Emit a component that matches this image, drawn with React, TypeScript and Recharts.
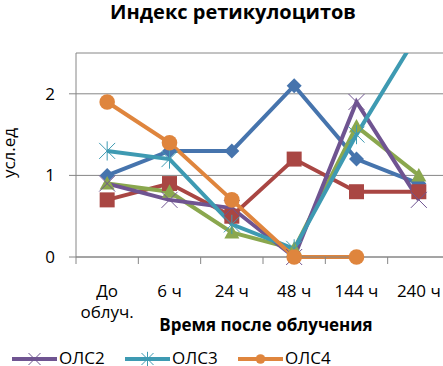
import React from 'react';
import { LineChart, Line, XAxis, YAxis, CartesianGrid } from 'recharts';

const categories = ['До\nоблуч.', '6 ч', '24 ч', '48 ч', '144 ч', '240 ч'];
const ryad1 = [1.0, 1.3, 1.3, 2.1, 1.2, 0.9];
const ryad2 = [0.7, 0.9, 0.5, 1.2, 0.8, 0.8];
const ryad3 = [0.9, 0.8, 0.3, 0.1, 1.6, 1.0];
const ols2 = [0.9, 0.7, 0.6, 0, 1.9, 0.7];
const ols3 = [1.3, 1.2, 0.4, 0.1, 1.5, 2.75];
const ols4 = [1.9, 1.4, 0.7, 0, 0, null];
const yTicks = [0, 1, 2];

const data = categories.map((cat, i) => ({
    cat,
    r1: ryad1[i],
    r2: ryad2[i],
    r3: ryad3[i],
    o2: ols2[i],
    o3: ols3[i],
    o4: ols4[i],
}));

const FONT = '"Open Sans", sans-serif';
const GRID = '#868686';

type Shape = 'diamond' | 'square' | 'triangle' | 'x' | 'star' | 'circle';

// ОЛС3 goes off the top, so it sits on its own clipped axis
const series: { key: string; name: string; color: string; shape: Shape; legend: boolean; axis: string }[] = [
    { key: 'r1', name: 'Ряд1', color: '#4674AD', shape: 'diamond', legend: false, axis: 'main' },
    { key: 'r2', name: 'Ряд2', color: '#A94643', shape: 'square', legend: false, axis: 'main' },
    { key: 'r3', name: 'Ряд3', color: '#8AA74E', shape: 'triangle', legend: false, axis: 'main' },
    { key: 'o2', name: 'ОЛС2', color: '#6F5491', shape: 'x', legend: true, axis: 'main' },
    { key: 'o3', name: 'ОЛС3', color: '#3E9AB2', shape: 'star', legend: true, axis: 'clip' },
    { key: 'o4', name: 'ОЛС4', color: '#DF853D', shape: 'circle', legend: true, axis: 'main' },
];

// marker glyph, s = half size
const marker = (shape: Shape, color: string, cx: number, cy: number, s: number) => {
    switch (shape) {
        case 'diamond':
            return <path d={`M${cx},${cy - s} L${cx + s},${cy} L${cx},${cy + s} L${cx - s},${cy} Z`} fill={color} />;
        case 'square':
            return <rect x={cx - s} y={cy - s} width={s * 2} height={s * 2} fill={color} />;
        case 'triangle':
            return <path d={`M${cx},${cy - s} L${cx + s},${cy + s * 0.8} L${cx - s},${cy + s * 0.8} Z`} fill={color} />;
        case 'x':
            return (
                <g stroke={color} strokeWidth={1}>
                    <line x1={cx - s} y1={cy - s} x2={cx + s} y2={cy + s} />
                    <line x1={cx - s} y1={cy + s} x2={cx + s} y2={cy - s} />
                </g>
            );
        case 'star':
            return (
                <g stroke={color} strokeWidth={1}>
                    <line x1={cx - s} y1={cy - s} x2={cx + s} y2={cy + s} />
                    <line x1={cx - s} y1={cy + s} x2={cx + s} y2={cy - s} />
                    <line x1={cx} y1={cy - s * 1.2} x2={cx} y2={cy + s * 1.2} />
                </g>
            );
        default:
            return <circle cx={cx} cy={cy} r={s} fill={color} />;
    }
};

const makeDot = (shape: Shape, color: string) => (props: any) => {
    const { cx, cy, value, index } = props;
    if (value == null || cx == null || cy == null) return <g key={`e-${index}`} />;
    const size = shape === 'x' || shape === 'star' ? 8 : shape === 'circle' ? 7.8 : 7.5;
    return <g key={`d-${index}`}>{marker(shape, color, cx, cy, size)}</g>;
};

const CategoryTick = (props: any) => {
    const { x, y, payload, width, visibleTicksCount } = props;
    const band = width && visibleTicksCount ? width / visibleTicksCount : 62.3;
    const lines = String(payload.value).split('\n');
    return (
        <g>
            <line x1={x - band / 2} x2={x - band / 2} y1={y} y2={y + 7} stroke={GRID} />
            <text x={x} y={y + 40} textAnchor="middle" fill="#000" fontSize={17} fontFamily={FONT}>
                {lines.map((l, i) => (
                    <tspan key={i} x={x} dy={i === 0 ? 0 : 21}>
                        {l}
                    </tspan>
                ))}
            </text>
        </g>
    );
};

const legendItems = series.filter((s) => s.legend);

export default function App() {
    return (
        <div style={{ position: 'absolute', left: 0, top: 0, width: 443, height: 366, overflow: 'hidden', background: '#fff' }}>
            <LineChart width={460} height={366} data={data} margin={{ top: 53, right: 10, bottom: 0, left: 0 }}>
                <CartesianGrid yAxisId="main" vertical={false} stroke={GRID} />
                <XAxis
                    dataKey="cat"
                    scale="band"
                    interval={0}
                    height={109}
                    tickSize={0}
                    tickMargin={0}
                    tickLine={false}
                    axisLine={{ stroke: GRID }}
                    tick={<CategoryTick />}
                />
                <YAxis
                    yAxisId="main"
                    width={76}
                    domain={[0, 2.5]}
                    ticks={yTicks}
                    tickSize={7}
                    tickMargin={14}
                    axisLine={{ stroke: GRID }}
                    tickLine={{ stroke: GRID }}
                    tick={{ fill: '#000', fontSize: 17, fontFamily: FONT }}
                />
                <YAxis yAxisId="clip" orientation="right" width={0} hide domain={[0, 2.5]} allowDataOverflow />
                {series.map((s) => (
                    <Line
                        key={s.key}
                        yAxisId={s.axis}
                        dataKey={s.key}
                        name={s.name}
                        stroke={s.color}
                        strokeWidth={4}
                        dot={makeDot(s.shape, s.color)}
                        activeDot={false}
                        isAnimationActive={false}
                        legendType={s.legend ? 'line' : 'none'}
                    />
                ))}
            </LineChart>
            <svg width={443} height={366} style={{ position: 'absolute', left: 0, top: 0, pointerEvents: 'none' }} fontFamily={FONT}>
                <text x={233} y={19} textAnchor="middle" fontSize={20} fontWeight="bold" fill="#000">
                    Индекс ретикулоцитов
                </text>
                <text x={15} y={153} textAnchor="middle" fontSize={17} fill="#000" transform="rotate(-90 15 153)">
                    усл.ед
                </text>
                <text x={266} y={331} textAnchor="middle" fontSize={17} fontWeight="bold" fill="#000">
                    Время после облучения
                </text>
                {legendItems.map((s, i) => {
                    const x0 = 12 + i * 113;
                    const cy = 359;
                    return (
                        <g key={s.key}>
                            <line x1={x0} x2={x0 + 45} y1={cy} y2={cy} stroke={s.color} strokeWidth={4} />
                            {marker(s.shape, s.color, x0 + 22.5, cy, s.shape === 'circle' ? 4.8 : 6)}
                            <text x={x0 + 47} y={364} fontSize={17} fill="#000">
                                {s.name}
                            </text>
                        </g>
                    );
                })}
            </svg>
        </div>
    );
}
